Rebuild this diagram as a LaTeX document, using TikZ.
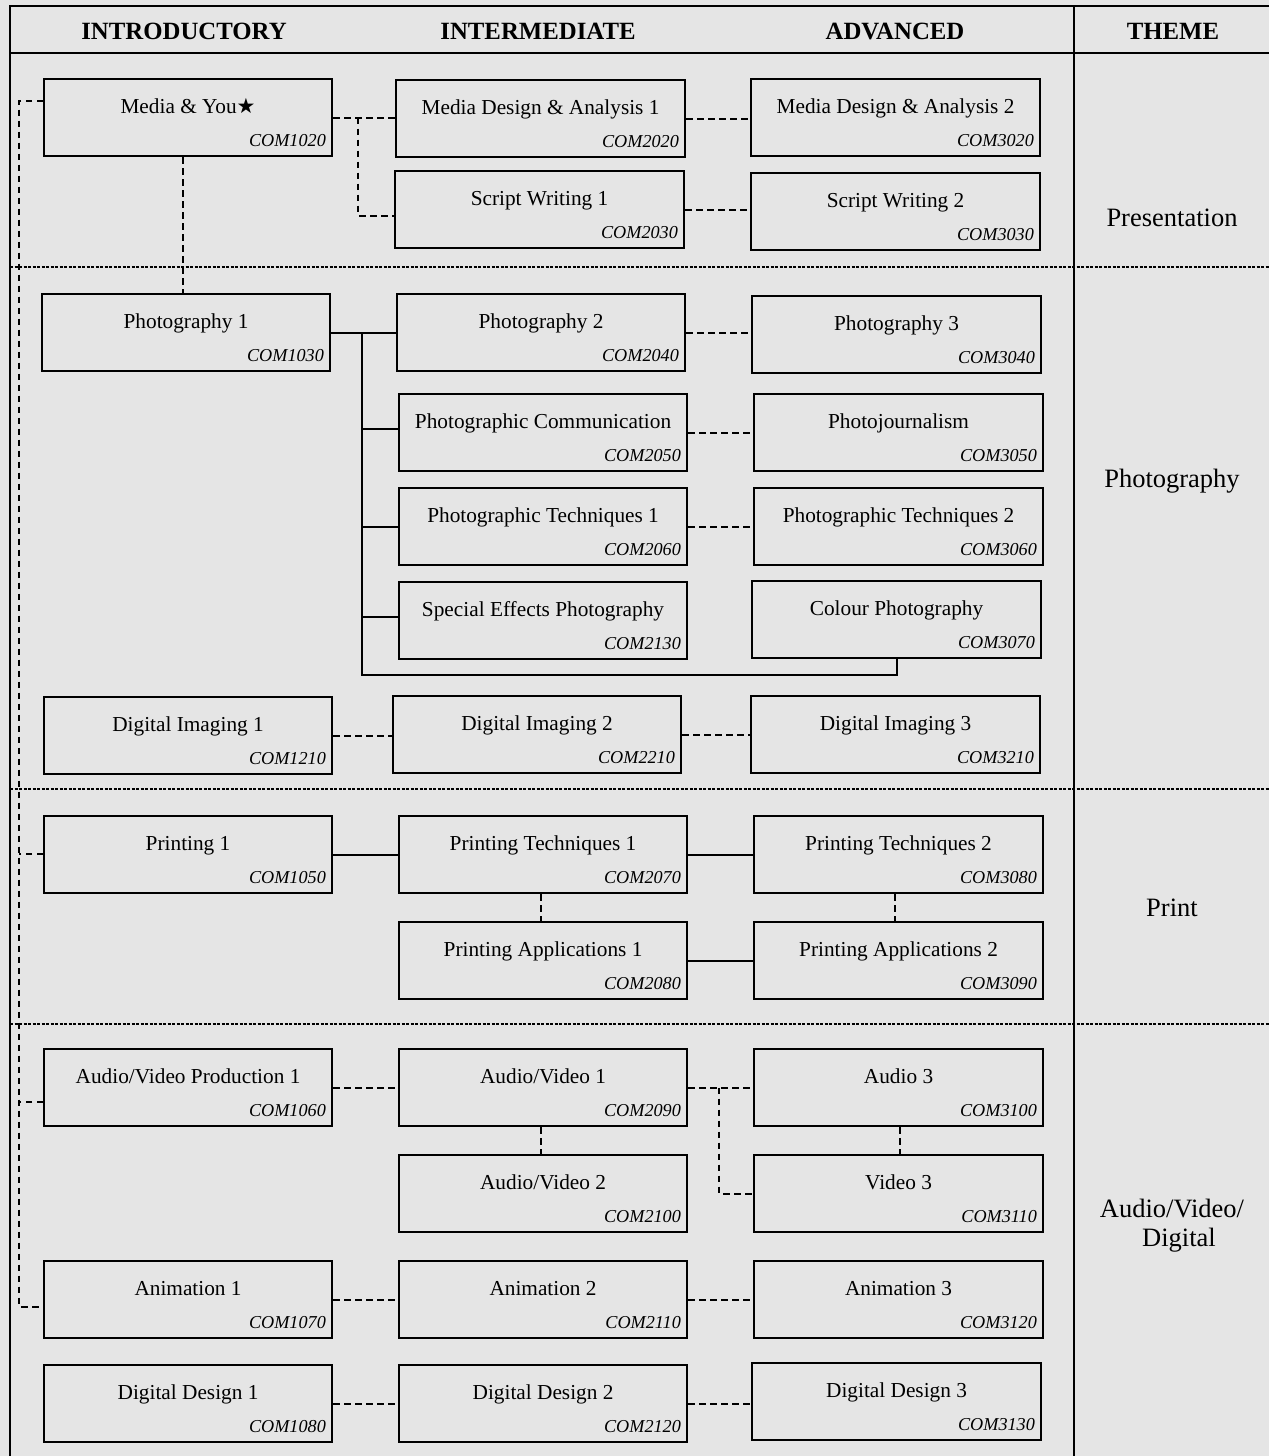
\documentclass[tikz,border=0pt]{standalone}
\usepackage{fontspec}
\setmainfont{Liberation Serif}
\newfontfamily\starfont{DejaVu Sans}
\usetikzlibrary{calc}
\definecolor{bg}{RGB}{229,229,229}
\tikzset{
  cbox/.style={draw=black, line width=2.1pt, fill=bg, inner sep=0pt, minimum height=77pt},
  ctitle/.style={inner sep=0pt, font=\fontsize{21.3}{25}\selectfont},
  ccode/.style={inner sep=0pt, font=\fontsize{18.2}{22}\selectfont\itshape},
  hdr/.style={inner sep=0pt, anchor=base, font=\fontsize{24.8}{28}\selectfont\bfseries},
  theme/.style={inner sep=0pt, align=center, font=\fontsize{26.5}{29}\selectfont},
  dcon/.style={draw=black, line width=1.9pt, dash pattern=on 6.5pt off 4.5pt},
  scon/.style={draw=black, line width=1.9pt},
  sdiv/.style={draw=black, line width=2pt, dash pattern=on 3pt off 1.5pt},
  frame/.style={draw=black, line width=2.3pt},
}
\newcommand\course[6]{%
  \node[cbox, minimum width=#4pt, anchor=north west] (#1) at (#2,#3) {};
  \node[ctitle, anchor=base] (#1t) at ([yshift=-35pt]#1.north) {#5};
  \node[ccode, anchor=base east] (#1c) at ([xshift=-7pt,yshift=11pt]#1.south east) {#6};
}
\begin{document}
\begin{tikzpicture}[x=1pt,y=-1pt]
\fill[bg] (0,0) rectangle (1269,1456);
\useasboundingbox (0,0) rectangle (1269,1456);

% frame
\draw[frame] (1269,6) -- (10,6) -- (10,1456);
\draw[frame] (10,53) -- (1269,53);
\draw[frame] (1074,6) -- (1074,1456);

% section dividers
\draw[sdiv] (10,267) -- (1269,267);
\draw[sdiv] (10,789) -- (1269,789);
\draw[sdiv] (10,1024) -- (1269,1024);

% headers
\node[hdr] (h1) at (184,39) {INTRODUCTORY};
\node[hdr] (h2) at (538,39) {INTERMEDIATE};
\node[hdr] (h3) at (895,39) {ADVANCED};
\node[hdr] (h4) at (1173,39) {THEME};

% themes
\node[theme] (t1) at (1172,218) {Presentation};
\node[theme] (t2) at (1172,481) {Photography};
\node[theme] (t3) at (1172,908) {Print};
\node[theme] (t4) at (1172,1226) {Audio/Video/\\\hspace*{14pt}Digital};

% --- boxes ---
\course{my}{43}{78}{288}{Media \& You{\starfont\fontsize{21}{22}\selectfont ★}}{COM1020}
\course{ph1}{41}{293}{288}{Photography 1}{COM1030}
\course{di1}{43}{696}{288}{Digital Imaging 1}{COM1210}
\course{pr1}{43}{815}{288}{Printing 1}{COM1050}
\course{avp1}{43}{1048}{288}{Audio/Video Production 1}{COM1060}
\course{an1}{43}{1260}{288}{Animation 1}{COM1070}
\course{dd1}{43}{1364}{288}{Digital Design 1}{COM1080}

\course{mda1}{395}{79}{289}{Media Design \& Analysis 1}{COM2020}
\course{sw1}{394}{170}{289}{Script Writing 1}{COM2030}
\course{ph2}{396}{293}{288}{Photography 2}{COM2040}
\course{pc}{398}{393}{288}{Photographic Communication}{COM2050}
\course{pt1}{398}{487}{288}{Photographic Techniques 1}{COM2060}
\course{sep}{398}{581}{288}{Special Effects Photography}{COM2130}
\course{di2}{392}{695}{288}{Digital Imaging 2}{COM2210}
\course{prt1}{398}{815}{288}{Printing Techniques 1}{COM2070}
\course{pa1}{398}{921}{288}{Printing Applications 1}{COM2080}
\course{av1}{398}{1048}{288}{Audio/Video 1}{COM2090}
\course{av2}{398}{1154}{288}{Audio/Video 2}{COM2100}
\course{an2}{398}{1260}{288}{Animation 2}{COM2110}
\course{dd2}{398}{1364}{288}{Digital Design 2}{COM2120}

\course{mda2}{750}{78}{289}{Media Design \& Analysis 2}{COM3020}
\course{sw2}{750}{172}{289}{Script Writing 2}{COM3030}
\course{ph3}{751}{295}{289}{Photography 3}{COM3040}
\course{pj}{753}{393}{289}{Photojournalism}{COM3050}
\course{pt2}{753}{487}{289}{Photographic Techniques 2}{COM3060}
\course{cp}{751}{580}{289}{Colour Photography}{COM3070}
\course{di3}{750}{695}{289}{Digital Imaging 3}{COM3210}
\course{prt2}{753}{815}{289}{Printing Techniques 2}{COM3080}
\course{pa2}{753}{921}{289}{Printing Applications 2}{COM3090}
\course{a3}{753}{1048}{289}{Audio 3}{COM3100}
\course{v3}{753}{1154}{289}{Video 3}{COM3110}
\course{an3}{753}{1260}{289}{Animation 3}{COM3120}
\course{dd3}{751}{1362}{289}{Digital Design 3}{COM3130}

% --- connectors ---
% presentation
\draw[dcon] (my.east) -- (my.east -| mda1.west);
\draw[dcon] ($(my.east)+(25,0)$) |- ([yshift=-6pt]sw1.west);
\draw[dcon] (mda1.east) -- (mda1.east -| mda2.west);
\draw[dcon] (sw1.east) -- (sw1.east -| sw2.west);
\draw[dcon] ([xshift=-5pt]my.south) -- ([xshift=-5pt]my.south |- ph1.north);

% left trunk
\draw[dcon] ([yshift=17pt]my.west) -- ++(-24,0) |- ([yshift=-7pt]an1.west);
\draw[dcon] ([yshift=1pt]pr1.west) -- ++(-24,0);
\draw[dcon] ([yshift=-14pt]avp1.west) -- ++(-24,0);

% photography tree
\coordinate (bt) at ($(ph1.east)+(31,0)$);
\coordinate (bb) at (bt |- 0,675);
\draw[scon] (ph1.east) -- (ph1.east -| ph2.west);
\draw[scon] (bt) -- (bb) -| (cp.south);
\draw[scon] ([yshift=4pt]bt |- pc.west) -- ([yshift=4pt]pc.west);
\draw[scon] (bt |- pt1.west) -- (pt1.west);
\draw[scon] ([yshift=4pt]bt |- sep.west) -- ([yshift=4pt]sep.west);
\draw[dcon] (ph2.east) -- (ph2.east -| ph3.west);
\draw[dcon] (pc.east) -- (pc.east -| pj.west);
\draw[dcon] (pt1.east) -- (pt1.east -| pt2.west);
\draw[dcon] (di1.east) -- (di1.east -| di2.west);
\draw[dcon] (di2.east) -- (di2.east -| di3.west);

% print
\draw[scon] (pr1.east) -- (pr1.east -| prt1.west);
\draw[scon] (prt1.east) -- (prt1.east -| prt2.west);
\draw[scon] (pa1.east) -- (pa1.east -| pa2.west);
\draw[dcon] ([xshift=-2pt]prt1.south) -- ([xshift=-2pt]pa1.north);
\draw[dcon] ([xshift=-4pt]prt2.south) -- ([xshift=-4pt]pa2.north);

% audio/video
\draw[dcon] (avp1.east) -- (avp1.east -| av1.west);
\draw[dcon] ([xshift=-2pt]av1.south) -- ([xshift=-2pt]av2.north);
\draw[dcon] (av1.east) -- (av1.east -| a3.west);
\draw[dcon] ($(av1.east)+(31,0)$) |- (v3.west);
\draw[dcon] ([xshift=1pt]a3.south) -- ([xshift=1pt]v3.north);
\draw[dcon] (an1.east) -- (an1.east -| an2.west);
\draw[dcon] (an2.east) -- (an2.east -| an3.west);
\draw[dcon] (dd1.east) -- (dd1.east -| dd2.west);
\draw[dcon] (dd2.east) -- (dd2.east -| dd3.west);
\end{tikzpicture}
\end{document}
